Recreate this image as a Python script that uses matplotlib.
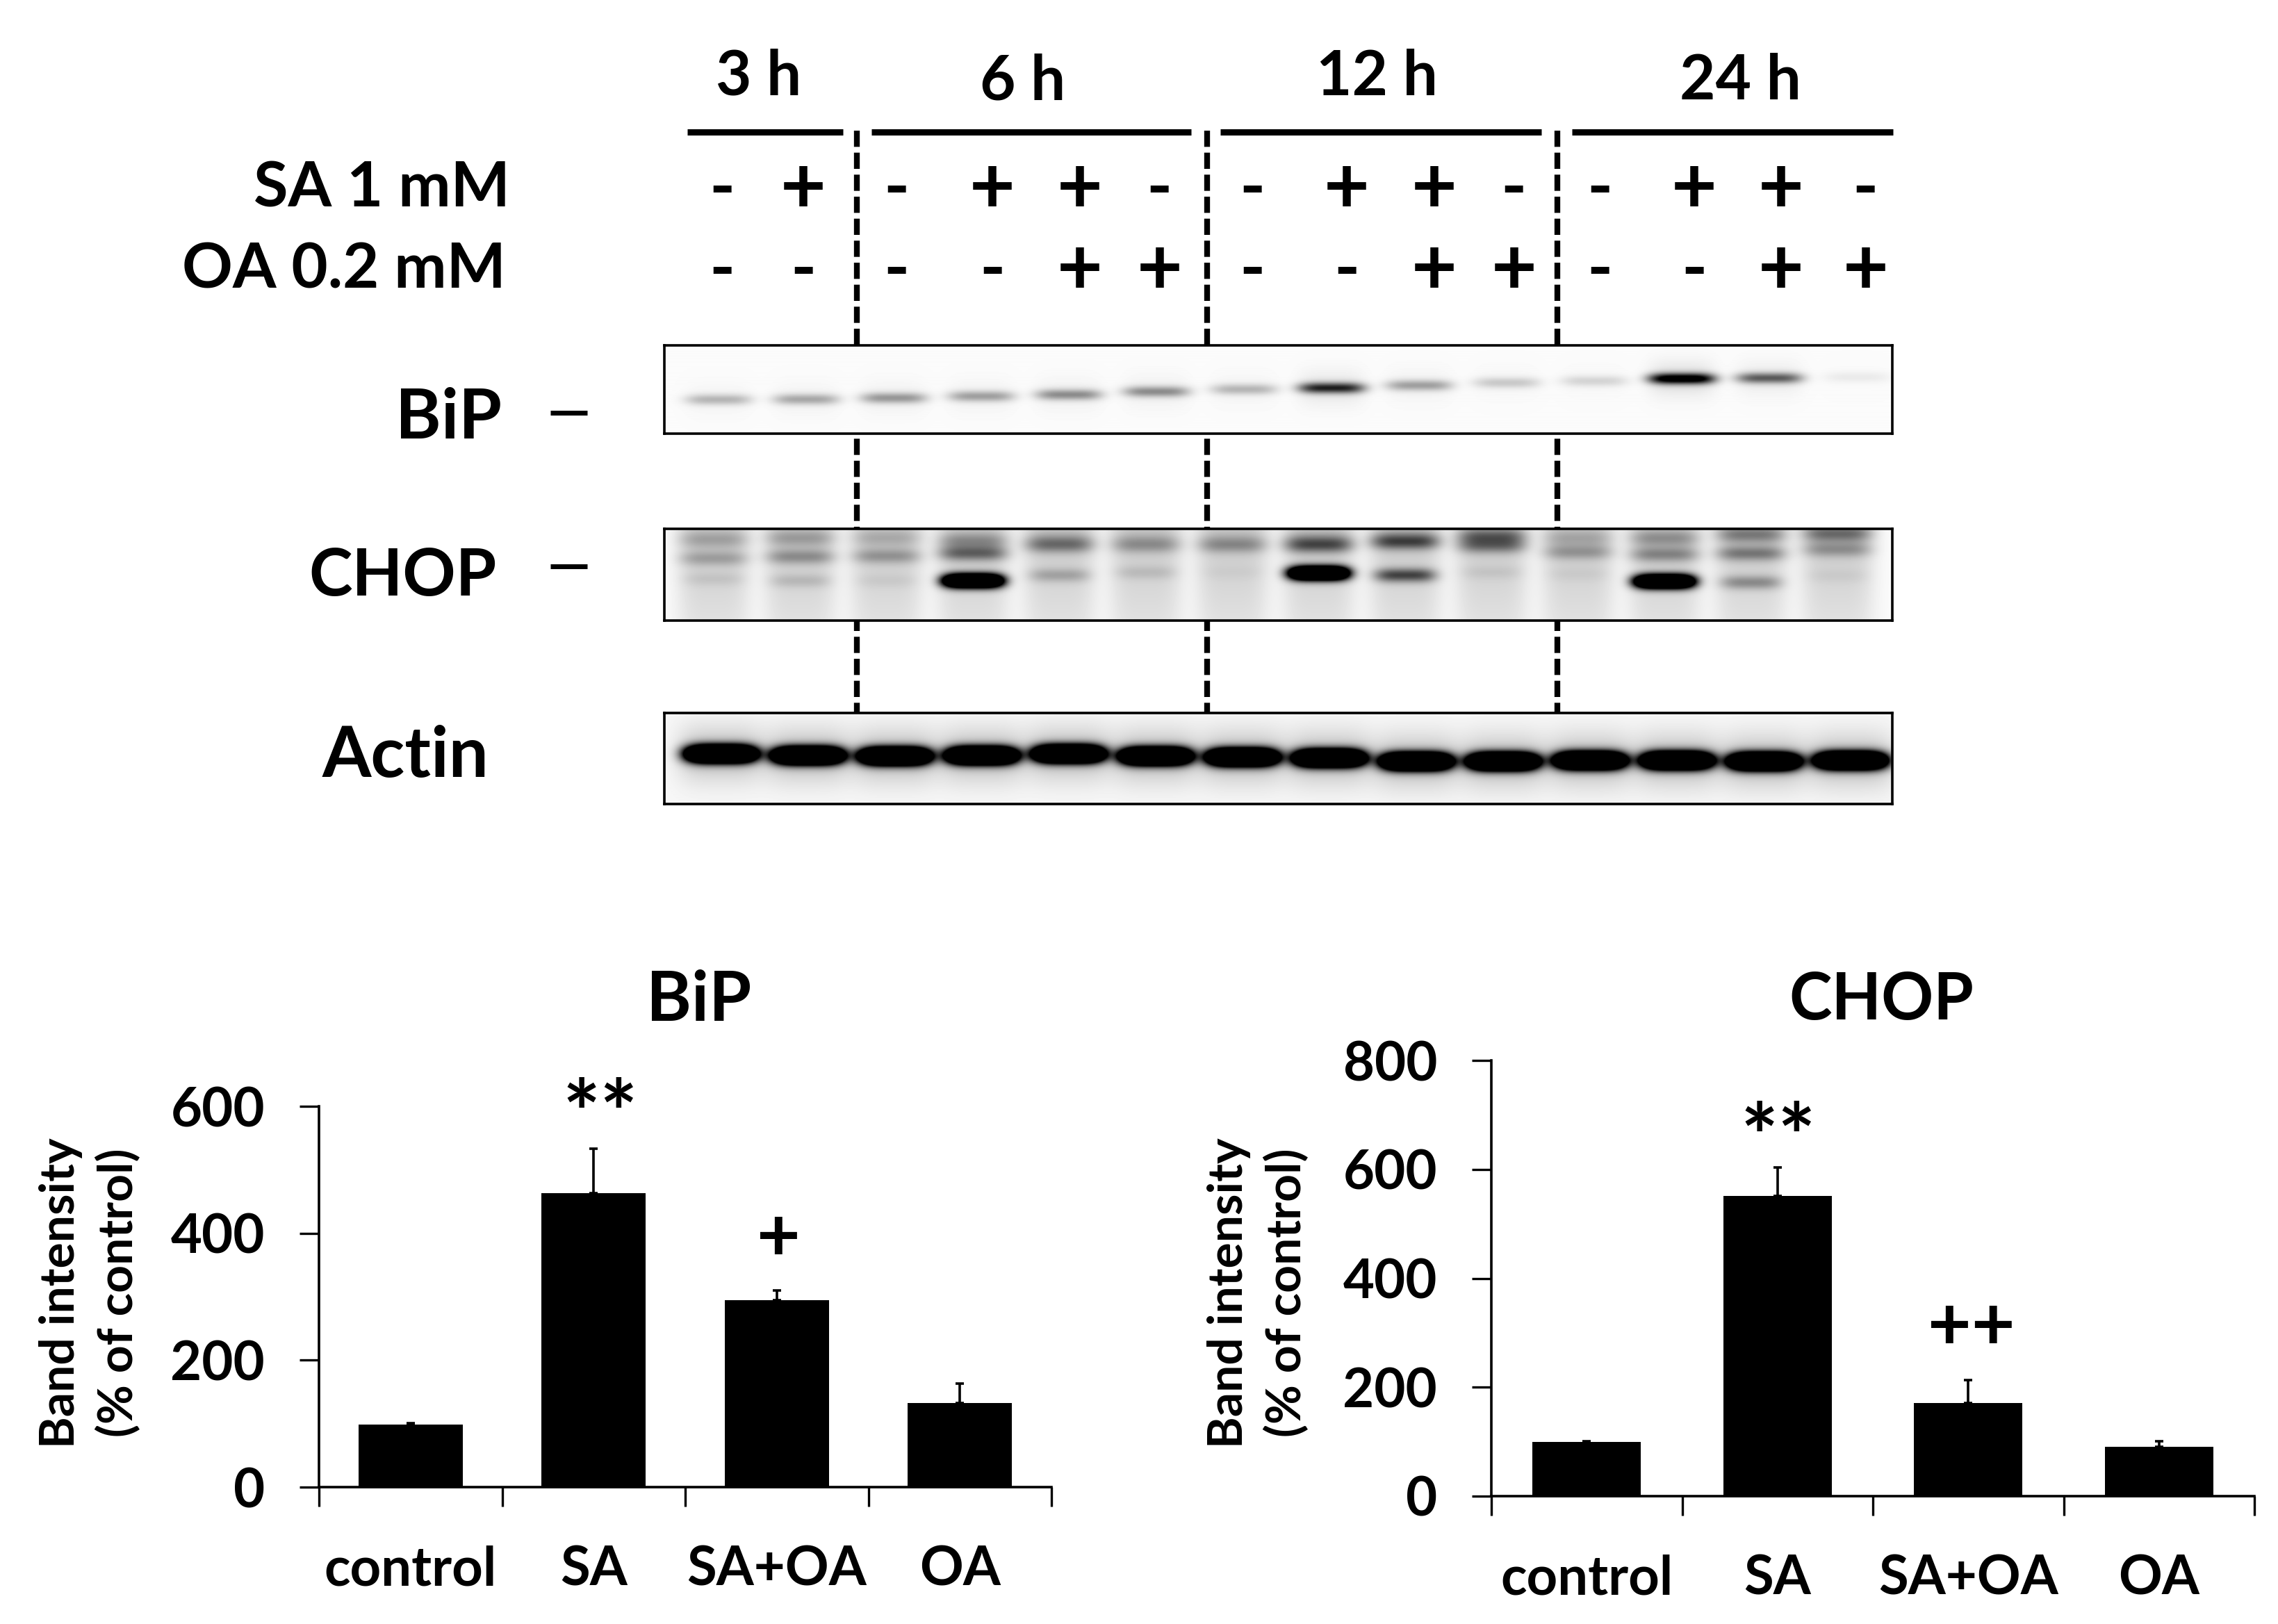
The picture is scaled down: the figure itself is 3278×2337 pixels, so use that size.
import numpy as np
import matplotlib
matplotlib.use('Agg')
import matplotlib.pyplot as plt

plt.rcParams['font.family'] = ['Lato', 'DejaVu Sans']
plt.rcParams['font.weight'] = 'bold'

categories = ['control', 'SA', 'SA+OA', 'OA']
bip_vals = [99, 463, 295, 133]
bip_tops = [101, 533, 310, 163]
chop_vals = [99, 551, 171, 90]
chop_tops = [101, 603, 213, 101]
bip_ticks = [0, 200, 400, 600]
chop_ticks = [0, 200, 400, 600, 800]

hours = ['3 h', '6 h', '12 h', '24 h']
sa_row = list('-+') + list('-++-') + list('-++-') + list('-++-')
oa_row = list('--') + list('--++') + list('--++') + list('--++')

# blot bands: how far down the box each band sits, and how dark it is
bip_pos = [.613, .61, .595, .576, .558, .524, .498, .483, .454, .424, .405, .379, .372, .361]
bip_amp = [.25, .3, .36, .33, .4, .4, .25, .8, .33, .18, .14, 1.1, .58, .06]
chop_top_pos = [.115, .10, .10, .13, .13, .13, .13, .13, .11, .08, .10, .10, .06, .05]
chop_top_amp = [.17, .19, .13, .26, .21, .13, .13, .27, .3, .42, .15, .24, .32, .38]
chop_mid_pos = [.319, .301, .294, .265, .186, .186, .186, .186, .151, .186, .251, .276, .265, .222]
chop_mid_amp = [.2, .27, .24, .42, .23, .16, .18, .33, .3, .33, .23, .3, .35, .25]
chop_low_pos = [.545, .563, .563, .563, .502, .473, .473, .48, .502, .473, .491, .57, .581, .509]
chop_low_amp = [.07, .12, .05, 2.4, .2, .1, .03, 2.4, .58, .06, .04, 2.4, .3, .04]
actin_pos = [.45, .468, .475, .468, .45, .475, .486, .496, .532, .532, .522, .522, .532, .522]
actin_amp = [3.0] * 14

W, H = 3278, 2337


def px_axes(fig, x0, y0, x1, y1, **kw):
    return fig.add_axes([x0 / W, 1 - y1 / H, (x1 - x0) / W, (y1 - y0) / H], **kw)


def blot(fig, box, lanes, bands, bg=0.02, lane_bg=0.0):
    x0, y0, x1, y1 = box
    ax = px_axes(fig, x0, y0, x1, y1)
    w, h = x1 - x0, y1 - y0
    xx, yy = np.meshgrid(np.arange(w), np.arange(h))
    img = np.full((h, w), bg, dtype=float)
    centres = np.linspace(lanes[0], lanes[1], 14) * w
    for i, c in enumerate(centres):
        if lane_bg:
            img += lane_bg * np.exp(-((xx - c) / (w * .03)) ** 4) * (1 - .5 * yy / h)
        for pos, amp, sx, sy in bands:
            dx = (xx - c) / (w * sx)
            dy = (yy - pos[i] * h) / (h * sy)
            img += amp[i] * np.exp(-dx ** 4 - dy ** 2)
    ax.imshow(1 - np.clip(img, 0, 1), cmap='gray', vmin=0, vmax=1, aspect='auto')
    ax.set_xticks([])
    ax.set_yticks([])
    for s in ax.spines.values():
        s.set_linewidth(2.6)
    return ax


def bars(fig, box, vals, tops, ticks):
    ax = px_axes(fig, *box)
    ax.patch.set_alpha(0)
    x = np.arange(len(categories)) + .5
    vals = np.array(vals)
    ax.bar(x, vals, width=.57, color='black',
           yerr=[np.zeros(4), np.array(tops) - vals],
           error_kw=dict(ecolor='black', elinewidth=2.6, capsize=4.5, capthick=2.6))
    ax.set_xlim(0, 4)
    ax.set_ylim(0, ticks[-1])
    ax.set_yticks(ticks)
    ax.set_xticks(range(5))
    ax.set_xticklabels([])
    ax.set_xticks(x, minor=True)
    ax.set_xticklabels(categories, minor=True, fontsize=56)
    ax.tick_params(axis='x', which='minor', length=0, pad=60)
    ax.tick_params(axis='x', which='major', length=20, width=2.4, direction='out')
    ax.tick_params(axis='y', length=20, width=2.4, pad=36, labelsize=56)
    ax.spines[['top', 'right']].set_visible(False)
    ax.spines[['left', 'bottom']].set_linewidth(2.6)
    return ax


fig = plt.figure(figsize=(W / 100, H / 100), dpi=100, facecolor='white')

# overlay in the pixel space of the page, scaled 1568 wide
over = fig.add_axes([0, 0, 1, 1], zorder=0)
over.set_xlim(0, 1568)
over.set_ylim(1118, 0)
over.axis('off')


def label(x, y, s, size, ha='center', va='center'):
    over.text(x, y, s, fontsize=size, ha=ha, va=va, fontweight='bold')


hour_x = [522, 704, 948, 1198]
hour_y = [53, 56, 53, 56]
for x, y, s in zip(hour_x, hour_y, hours):
    label(x, y, s, 64)
for a, b in [(473, 580), (600, 820), (840, 1061), (1082, 1303)]:
    over.plot([a, b], [91, 91], color='black', lw=6.5, solid_capstyle='butt')
for x in [590, 831, 1072]:
    over.plot([x, x], [90, 492], color='black', lw=6, linestyle=(0, (2.8, 1)))

sign_x = [497, 553, 617, 683, 743, 798, 862, 927, 987, 1042, 1101, 1166, 1226, 1284]
for x, s1, s2 in zip(sign_x, sa_row, oa_row):
    label(x, 131, s1, 82 if s1 == '+' else 72)
    label(x, 187, s2, 82 if s2 == '+' else 72)
label(351, 130, 'SA 1 mM', 65, ha='right')
label(348, 186, 'OA 0.2 mM', 65, ha='right')

label(309, 288, 'BiP', 72)
label(277, 397, 'CHOP', 68)
label(279, 521, 'Actin', 73)
for y in [284, 390]:
    over.plot([379, 404], [y, y], color='black', lw=5, solid_capstyle='butt')

label(481, 689, 'BiP', 71)
label(1295, 689, 'CHOP', 67)
label(413, 771, '**', 92)
label(536, 853, '+', 78)
label(1224, 787, '**', 92)
label(1357, 914, '++', 78)

for xc, yc in [(62, 890), (866, 890)]:
    over.text(xc, yc, 'Band intensity\n(% of control)', fontsize=50, rotation=90,
              ha='center', va='center', linespacing=1.35, fontweight='bold')

blot(fig, (956, 497, 2723, 624), (.044, .971),
     [(bip_pos, bip_amp, .027, .06),
      (bip_pos, [a * .1 for a in bip_amp], .027, .2)], bg=.015)
blot(fig, (956, 761, 2723, 893), (.04, .955),
     [(chop_top_pos, chop_top_amp, .028, .09),
      (chop_mid_pos, chop_mid_amp, .028, .08),
      (chop_low_pos, chop_low_amp, .025, .075)], bg=.02, lane_bg=.2)
blot(fig, (956, 1026, 2723, 1157), (.046, .966),
     [(actin_pos, actin_amp, .029, .09),
      (actin_pos, [.22] * 14, .035, .3)], bg=.03)

bars(fig, (459, 1592, 1513, 2140), bip_vals, bip_tops, bip_ticks)
bars(fig, (2146, 1526, 3244, 2153), chop_vals, chop_tops, chop_ticks)

fig.savefig('out.png', dpi=100)
